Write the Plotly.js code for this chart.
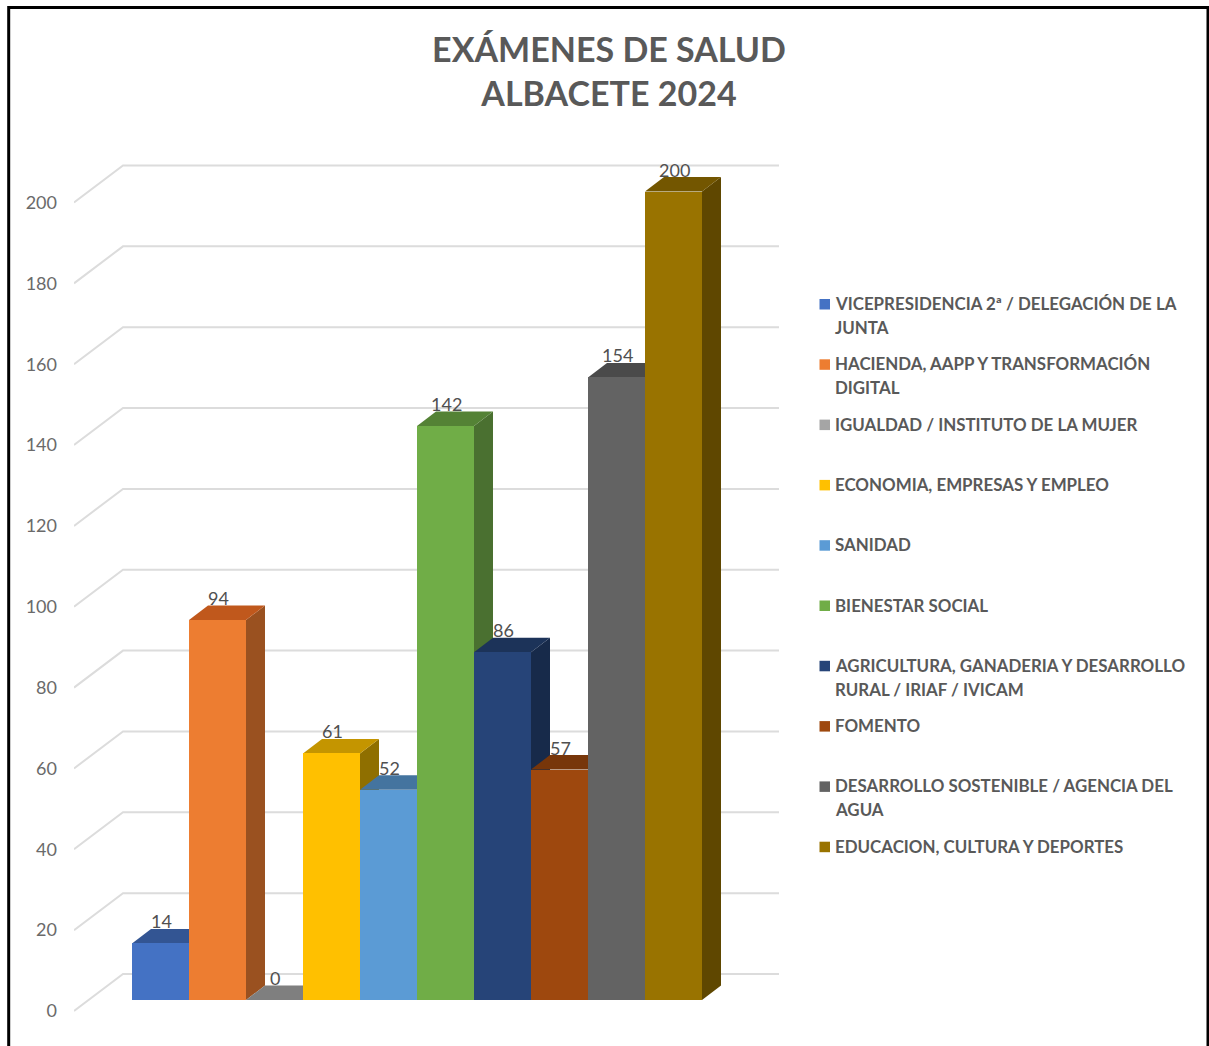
<!DOCTYPE html>
<html>
<head>
<meta charset="utf-8">
<script src="https://cdn.plot.ly/plotly-3.0.1.min.js"></script>
<style>html,body{margin:0;padding:0;background:#fff;overflow:hidden}</style>
</head>
<body>
<div id="chart" style="width:1209px;height:1046px"></div>
<script>
const categories = [
  "VICEPRESIDENCIA 2ª / DELEGACIÓN DE LA<br>JUNTA",
  "HACIENDA, AAPP Y TRANSFORMACIÓN<br>DIGITAL",
  "IGUALDAD / INSTITUTO DE LA MUJER",
  "ECONOMIA, EMPRESAS Y EMPLEO",
  "SANIDAD",
  "BIENESTAR SOCIAL",
  "AGRICULTURA, GANADERIA Y DESARROLLO<br>RURAL / IRIAF / IVICAM",
  "FOMENTO",
  "DESARROLLO SOSTENIBLE / AGENCIA DEL<br>AGUA",
  "EDUCACION, CULTURA Y DEPORTES"
];
const values = [14, 94, 0, 61, 52, 142, 86, 57, 154, 200];
const frontColors = ["#4472c4","#ed7d31","#a5a5a5","#ffc000","#5b9bd5","#70ad47","#264478","#9e480e","#636363","#997300"];
const topColors   = ["#335593","#c0581c","#7f7f7f","#c49500","#44749f","#548235","#1c3359","#77360a","#4a4a4a","#735600"];
const sideColors  = ["#2a4679","#9a5120","#6b6b6b","#8f6f00","#3a638a","#4a7030","#172a4a","#612c08","#3d3d3d","#5f4700"];
const axisTicks = [0,20,40,60,80,100,120,140,160,180,200];

// plot frame and scales (pixels)
const W = 1209, H = 1046;
const P = {l:74, r:779, t:150, b:1020};
const pxPerCat = 57, pxPerVal = 4.0425, firstCenter = 160.5;
const frontZeroPx = 1000, labelZeroPx = 1011;
const barDX = 19/pxPerCat, barDY = 14.5/pxPerVal;
const wallDX = 49/pxPerCat, wallDY = 37/pxPerVal;
const xMin = (P.l-firstCenter)/pxPerCat, xMax = (P.r-firstCenter)/pxPerCat;
const span = (P.b-P.t)/pxPerVal;
const rangeLabels = [(labelZeroPx-P.b)/pxPerVal, (labelZeroPx-P.b)/pxPerVal+span];
const rangeBars   = [(frontZeroPx-P.b)/pxPerVal, (frontZeroPx-P.b)/pxPerVal+span];
const px = x => (x-P.l)/(P.r-P.l);
const py = y => (P.b-y)/(P.b-P.t);

const traces = [];
// wall gridlines
const gx = [], gy = [];
axisTicks.forEach(t => {
  gx.push(xMin, xMin+wallDX, xMax, null);
  gy.push(t, t+wallDY, t+wallDY, null);
});
traces.push({type:"scatter",mode:"lines",x:gx,y:gy,xaxis:"x",yaxis:"y",
  line:{color:"#dcdcdc",width:2},hoverinfo:"skip",showlegend:false});
// top and side faces
values.forEach((v,i) => {
  const a = i-0.5, b = i+0.5;
  traces.push({type:"scatter",mode:"lines",fill:"toself",xaxis:"x",yaxis:"y2",
    x:[b,b+barDX,b+barDX,b,b],y:[0,barDY,v+barDY,v,0],
    fillcolor:sideColors[i],line:{width:0},hoverinfo:"skip",showlegend:false});
  traces.push({type:"scatter",mode:"lines",fill:"toself",xaxis:"x",yaxis:"y2",
    x:[a,a+barDX,b+barDX,b,a],y:[v,v+barDY,v+barDY,v,v],
    fillcolor:topColors[i],line:{width:0},hoverinfo:"skip",showlegend:false});
});
// front faces
traces.push({type:"bar",xaxis:"x",yaxis:"y3",x:values.map((_,i)=>i),y:values,width:1,
  marker:{color:frontColors,line:{width:0}},showlegend:false,
  hovertext:categories.map(c=>c.replace("<br>"," ")),hoverinfo:"text+y"});

const FONT = "Lato, Carlito, 'Open Sans', sans-serif";
const annotations = values.map((v,i)=>({
  xref:"x",yref:"y3",x:i,y:v,yshift:22,xshift:0.5,text:String(v),showarrow:false,
  font:{family:FONT,size:18,color:"#505050"},xanchor:"center",yanchor:"middle"
}));
const shapes = [
  // outer frame, open at the bottom of the picture
  {type:"path",xref:"paper",yref:"paper",
   path:`M${px(8.7)},${py(1060)} L${px(8.7)},${py(7.5)} L${px(1208)},${py(7.5)} L${px(1208)},${py(1060)}`,
   line:{color:"#000",width:3}}
];
categories.forEach((c,i)=>{
  const y = 303.5+i*60.3;
  shapes.push({type:"rect",xref:"paper",yref:"paper",x0:px(819.5),x1:px(830),
    y0:py(y+6),y1:py(y-4.5),fillcolor:frontColors[i],line:{width:0}});
  c.split("<br>").forEach((line,k)=>{
    annotations.push({xref:"paper",yref:"paper",x:px(833),y:py(y+k*24),text:line,showarrow:false,
      xanchor:"left",yanchor:"middle",align:"left",
      font:{family:FONT,size:16.9,weight:700,color:"#595959"}});
  });
});

Plotly.newPlot("chart",traces,{
  width:W,height:H,
  paper_bgcolor:"#fff",plot_bgcolor:"rgba(0,0,0,0)",
  margin:{l:P.l,r:W-P.r,t:P.t,b:H-P.b,pad:0},
  showlegend:false,bargap:0,
  title:{text:"EXÁMENES DE SALUD<br>ALBACETE 2024",x:609/W,xanchor:"center",
    y:1-62/H,yanchor:"middle",font:{family:FONT,size:34,weight:700,color:"#595959"}},
  xaxis:{range:[xMin,xMax],visible:false,fixedrange:true},
  yaxis:{range:rangeLabels,tickvals:axisTicks,ticktext:axisTicks.map(String),showgrid:false,
    zeroline:false,showline:false,ticks:"",ticklabelstandoff:16,fixedrange:true,
    tickfont:{family:FONT,size:18,color:"#6a6a6a"}},
  yaxis2:{range:rangeBars,overlaying:"y",visible:false,fixedrange:true},
  yaxis3:{range:rangeBars,overlaying:"y",visible:false,fixedrange:true},
  annotations,shapes
},{displayModeBar:false,responsive:false});
</script>
</body>
</html>
